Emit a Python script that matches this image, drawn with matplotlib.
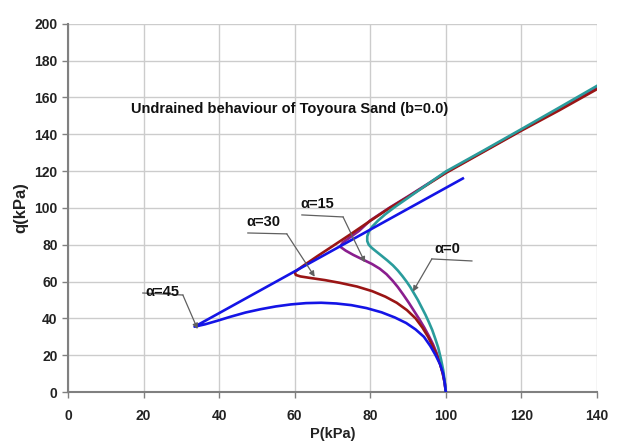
import matplotlib
matplotlib.use('Agg')
import matplotlib.pyplot as plt

plt.rcParams['font.family'] = ['Liberation Sans', 'DejaVu Sans']
plt.rcParams['font.weight'] = 'bold'

# ---- data (p, q in kPa) ----
# alpha = 45 (blue): effective stress path, then the straight line
p_a45 = [100, 99.7, 99.3, 98.5, 97.3, 95.9, 94.2, 92, 89.5, 86.5, 83, 79, 75, 71,
         67, 63, 59, 55, 51, 47, 43, 39.5, 36.3, 33.5, 104.5]
q_a45 = [0, 5, 10, 15, 20, 25, 30, 34, 37.5, 40.5, 43.3, 45.6, 47.2, 48.1,
         48.5, 48.3, 47.6, 46.5, 45, 43.2, 40.9, 38.7, 36.8, 35.5, 116]

# alpha = 30 (dark red)
p_a30 = [100, 99.7, 99.2, 98.5, 97.6, 96.5, 95.3, 93.8, 92, 89.7, 87, 84, 80.5,
         76.5, 72, 68, 64, 61.5, 60.3, 60,
         62, 66, 70, 75, 80, 85, 90, 100, 110, 120, 130, 140]
q_a30 = [0, 5, 10, 15, 20, 25, 30, 35, 40, 44.5, 48.5, 51.8, 54.8,
         57.3, 59.3, 60.8, 62, 62.8, 63.6, 65.2,
         68.2, 73.8, 79.2, 86, 93, 99.8, 106, 119, 130.5, 142, 153, 164.5]

# alpha = 15 (purple)
p_a15 = [100, 99.7, 99.2, 98.5, 97.6, 96.6, 95.5, 94.3, 93, 91.6, 90.2, 88.7,
         87.3, 85.9, 84.3, 82.5, 80.5, 78, 75.5, 73.5, 72, 72.8, 74.5, 77, 80,
         85, 90, 100, 110, 120, 130, 140]
q_a15 = [0, 5, 10, 15.5, 21, 26, 30.5, 35, 39.5, 44, 48.5, 53,
         57, 60.5, 64, 67, 69.5, 72, 74.5, 76.8, 79, 81.3, 83.8, 87.5, 93.2,
         100, 106.3, 119.3, 130.8, 142.3, 153.8, 165.2]

# alpha = 0 (teal)
p_a0 = [100, 99.7, 99.3, 98.7, 98, 97.2, 96.4, 95.5, 94.6, 93.6, 92.6, 91.6,
        90.6, 89.6, 88.5, 87.3, 86, 84.5, 83, 81.6, 80.4, 79.6, 79.2, 79.2,
        79.6, 80.5, 82, 84, 86.5, 90, 100, 110, 120, 130, 140]
q_a0 = [0, 6, 12, 18, 24, 29, 33.7, 38, 42, 46, 50, 53.5,
        57, 60, 63, 66, 68.8, 71.5, 74, 76.3, 78.3, 80, 82, 84.5,
        87, 89.8, 93, 96.6, 100.5, 105.5, 119.8, 131.2, 142.8, 154.5, 166.3]

# labels: (text, text pos, leader start, leader corner, arrow tip)
labels = ['\u03b1=45', '\u03b1=30', '\u03b1=15', '\u03b1=0']
label_xy = [(25.1, 54.5), (51.6, 92.3), (66.1, 102), (100.5, 77.6)]
leader_start = [(19.8, 53.8), (47.6, 86.4), (61.9, 96.2), (106.9, 71.2)]
leader_corner = [(30.4, 52.7), (57.9, 85.9), (72.8, 95.1), (96.3, 72.3)]
arrow_tip = [(34.3, 34.2), (65.3, 62.6), (78.6, 70.4), (91.3, 54.6)]

fig = plt.figure(figsize=(6.21, 4.41), dpi=100)
ax = fig.add_axes([0.1095, 0.111, 0.8518, 0.835])

ax.plot(p_a15, q_a15, color='#8a1e8e', lw=1.9, zorder=3)
ax.plot(p_a30, q_a30, color='#9a1515', lw=1.9, zorder=4)
ax.plot(p_a0, q_a0, color='#2a9c9c', lw=1.9, zorder=5)
ax.plot(p_a45, q_a45, color='#1414e6', lw=1.9, zorder=6)

for t, txy, s, c, tip in zip(labels, label_xy, leader_start, leader_corner, arrow_tip):
    ax.plot([s[0], c[0]], [s[1], c[1]], color='#606060', lw=0.9, zorder=7)
    ax.annotate('', xy=tip, xytext=c,
                arrowprops=dict(arrowstyle='-|>', color='#606060', lw=0.9,
                                mutation_scale=8, shrinkA=0, shrinkB=0),
                zorder=7)
    ax.text(txy[0], txy[1], t, ha='center', va='center', fontsize=10.5,
            fontweight='bold', color='#111111', zorder=8)

ax.text(58.7, 153.8, 'Undrained behaviour of Toyoura Sand (b=0.0)',
        ha='center', va='center', fontsize=10.5, fontweight='bold', color='#111111')

ax.set_xlim(0, 140)
ax.set_ylim(0, 200)
ax.set_xticks(range(0, 141, 20))
ax.set_yticks(range(0, 201, 20))
ax.grid(True, color='#cccccc', lw=1.0)
ax.set_axisbelow(True)
for side in ['top', 'right']:
    ax.spines[side].set_visible(False)
for side in ['left', 'bottom']:
    ax.spines[side].set_color('#808080')
    ax.spines[side].set_linewidth(1.5)
ax.tick_params(axis='both', labelsize=10, colors='#808080', labelcolor='#222222',
               length=4, width=1)
ax.tick_params(axis='x', pad=8)
for lab in ax.get_xticklabels() + ax.get_yticklabels():
    lab.set_fontweight('bold')

ax.set_xlabel('P(kPa)', fontsize=10.5, fontweight='bold', labelpad=3, color='#222222')
ax.set_ylabel('q(kPa)', fontsize=12, fontweight='bold', labelpad=4, color='#222222')

fig.savefig('out.png', dpi=100)
